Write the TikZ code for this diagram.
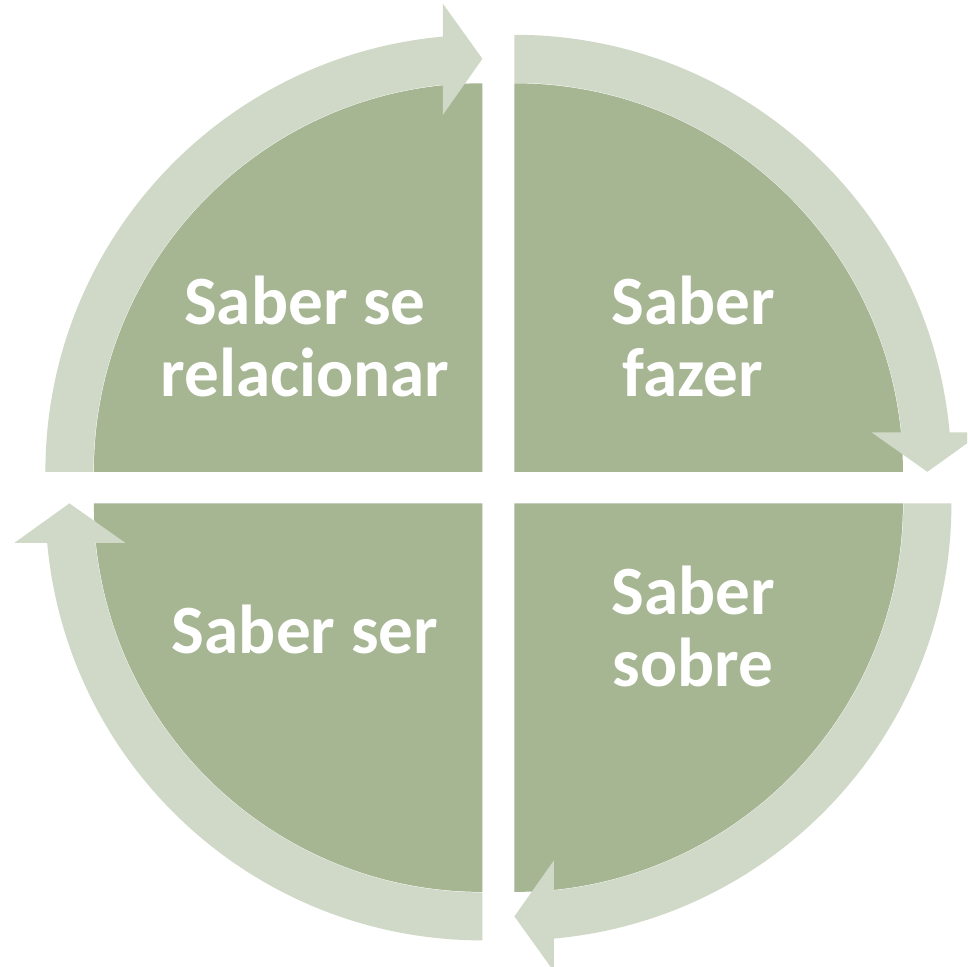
\documentclass[tikz,border=0pt]{standalone}
\usepackage{fontspec}
\setmainfont{Carlito}
\definecolor{sector}{RGB}{166,181,146}
\definecolor{band}{RGB}{208,217,199}
\tikzset{
  sectorfill/.style={fill=sector, draw=none},
  bandarrow/.style={fill=band, draw=none},
  lbl/.style={text=white, font=\bfseries\fontsize{34.6pt}{36pt}\selectfont, align=center, anchor=base, inner sep=0pt}
}
\newcommand{\cyclearrow}{%
  (180:437) arc[start angle=180, end angle=95.19, radius=437]
  -- (-39.5,468) -- (0,413) -- (-39.5,357)
  -- (95.83:389) arc[start angle=95.83, end angle=180, radius=389] -- cycle}
\begin{document}
\begin{tikzpicture}[x=0.5pt, y=0.5pt]
  \clip (0,0) rectangle (967,967);
  \fill[white] (0,0) rectangle (967,967);
  % corners
  \coordinate (ctl) at (482.4,495.2);
  \coordinate (ctr) at (514.4,495.2);
  \coordinate (cbl) at (482.4,463.6);
  \coordinate (cbr) at (514.4,463.6);
  % sectors
  \begin{scope}[shift={(ctl)}]
    \fill[sectorfill] (0,0) -- (180:388.5) arc[start angle=180, end angle=90, radius=388.5] -- cycle;
  \end{scope}
  \begin{scope}[shift={(ctr)}]
    \fill[sectorfill] (0,0) -- (90:388.5) arc[start angle=90, end angle=0, radius=388.5] -- cycle;
  \end{scope}
  \begin{scope}[shift={(cbr)}]
    \fill[sectorfill] (0,0) -- (0:388.5) arc[start angle=0, end angle=-90, radius=388.5] -- cycle;
  \end{scope}
  \begin{scope}[shift={(cbl)}]
    \fill[sectorfill] (0,0) -- (270:388.5) arc[start angle=270, end angle=180, radius=388.5] -- cycle;
  \end{scope}
  % arrows
  \begin{scope}[shift={(ctl)}, rotate=0]
    \fill[bandarrow] \cyclearrow;
  \end{scope}
  \begin{scope}[shift={(ctr)}, rotate=-90]
    \fill[bandarrow] \cyclearrow;
  \end{scope}
  \begin{scope}[shift={(cbr)}, rotate=-180]
    \fill[bandarrow] \cyclearrow;
  \end{scope}
  \begin{scope}[shift={(cbl)}, rotate=90]
    \fill[bandarrow] \cyclearrow;
  \end{scope}
  % labels (base = baseline of last line)
  \node[lbl] (tl) at (305,570) {Saber se\\relacionar};
  \node[lbl] (tr) at (693,570) {Saber\\fazer};
  \node[lbl] (bl) at (305,313) {Saber ser};
  \node[lbl] (br) at (693,280) {Saber\\sobre};
\end{tikzpicture}
\end{document}
